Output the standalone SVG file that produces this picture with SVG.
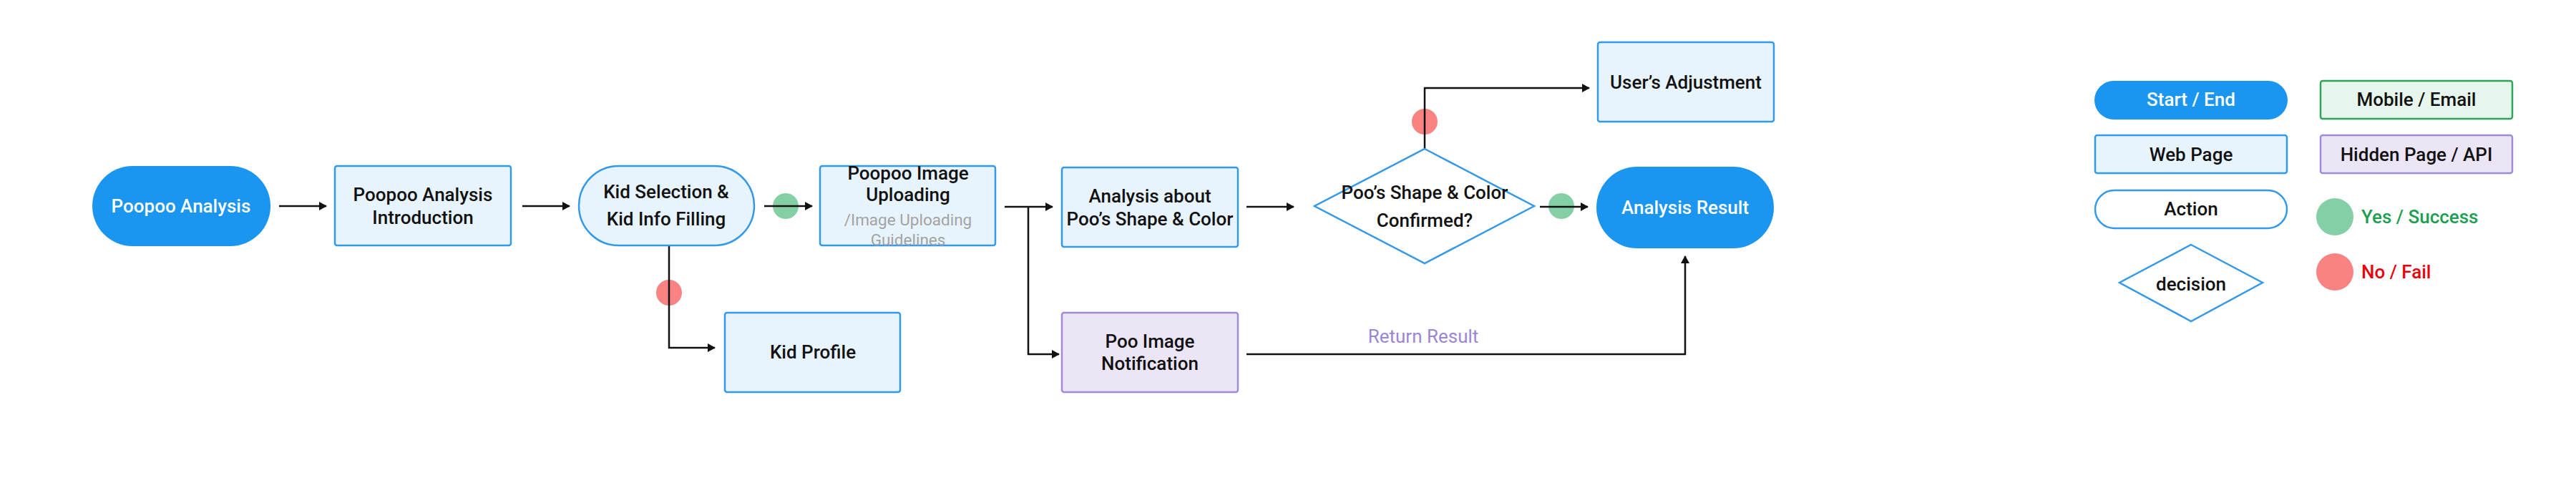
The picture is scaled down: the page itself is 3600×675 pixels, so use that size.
<svg xmlns="http://www.w3.org/2000/svg" width="3600" height="675" viewBox="0 0 3600 675">
<style>
text{font-family:Roboto,"Liberation Sans",sans-serif;font-size:26px;font-weight:500;text-anchor:middle;fill:#111}
.w{fill:#fff}
.start{fill:#1a95f0}
.web{fill:#e8f4fd;stroke:#3399e8;stroke-width:2.5}
.act{fill:#e8f4fd;stroke:#3399e8;stroke-width:2.5}
.act2{fill:#fff;stroke:#3399e8;stroke-width:2.5}
.hid{fill:#ebe5f6;stroke:#a18bd3;stroke-width:2.5}
.mob{fill:#e6f6ec;stroke:#2fa55a;stroke-width:2.5}
.dec{fill:#fff;stroke:#3399e8;stroke-width:2.5}
.g{fill:#84cfa5}
.r{fill:#f98282}
.gray{fill:#a3a3a3;font-size:22.5px;font-weight:400}
.ln{fill:none;stroke:#111;stroke-width:2.5}
</style>
<defs>
<marker id="ah" markerWidth="12" markerHeight="12" refX="10" refY="6" orient="auto" markerUnits="userSpaceOnUse">
<path d="M0,0 L11,6 L0,12 Z" fill="#111"/>
</marker>
</defs>
<rect width="3600" height="675" fill="#fff"/>

<g id="connectors">
<circle class="g" cx="1098" cy="288" r="18"/>
<circle class="r" cx="935" cy="409" r="18"/>
<circle class="g" cx="2182" cy="288" r="18"/>
<circle class="r" cx="1991" cy="170" r="18"/>
<line class="ln" x1="390" y1="288" x2="456" y2="288" marker-end="url(#ah)"/>
<line class="ln" x1="730" y1="288" x2="796" y2="288" marker-end="url(#ah)"/>
<line class="ln" x1="1068" y1="288" x2="1135" y2="288" marker-end="url(#ah)"/>
<path class="ln" d="M935,344 V486 H999" marker-end="url(#ah)"/>
<line class="ln" x1="1404" y1="289" x2="1471" y2="289" marker-end="url(#ah)"/>
<path class="ln" d="M1437,289 V495 H1480" marker-end="url(#ah)"/>
<line class="ln" x1="1742" y1="289" x2="1808" y2="289" marker-end="url(#ah)"/>
<line class="ln" x1="2152" y1="289" x2="2219" y2="289" marker-end="url(#ah)"/>
<path class="ln" d="M1991,208 V123 H2221" marker-end="url(#ah)"/>
<path class="ln" d="M1742,495 H2355 V358" marker-end="url(#ah)"/>
<text x="1989" y="479" style="fill:#9c86d4;font-weight:400">Return Result</text>
</g>

<g id="start">
<rect class="start" x="129" y="232" width="249" height="112" rx="56"/>
<text class="w" x="253" y="297">Poopoo Analysis</text>
</g>
<g id="intro">
<rect class="web" x="468" y="232" width="246" height="111" rx="3"/>
<text x="591" y="281">Poopoo Analysis</text>
<text x="591" y="313">Introduction</text>
</g>
<g id="kid-selection">
<rect class="act" x="809" y="232" width="245" height="111" rx="55.5"/>
<text x="931" y="277">Kid Selection &amp;</text>
<text x="931" y="315">Kid Info Filling</text>
</g>
<g id="upload">
<rect class="web" x="1146" y="232" width="245" height="111" rx="3"/>
<text x="1269" y="251">Poopoo Image</text>
<text x="1269" y="281">Uploading</text>
<text class="gray" x="1269" y="315">/Image Uploading</text>
<text class="gray" x="1269" y="343">Guidelines</text>
</g>
<g id="kid-profile">
<rect class="web" x="1013" y="437" width="245" height="111" rx="3"/>
<text x="1136" y="501">Kid Profile</text>
</g>
<g id="analysis">
<rect class="web" x="1484" y="234" width="246" height="111" rx="3"/>
<text x="1607" y="283">Analysis about</text>
<text x="1607" y="315">Poo’s Shape &amp; Color</text>
</g>
<g id="notification">
<rect class="hid" x="1484" y="437" width="246" height="111" rx="3"/>
<text x="1607" y="486">Poo Image</text>
<text x="1607" y="517">Notification</text>
</g>
<g id="decision">
<path class="dec" d="M1991,208 L2144,288 L1991,368 L1837,288 Z"/>
<text x="1991" y="278">Poo’s Shape &amp; Color</text>
<text x="1991" y="317">Confirmed?</text>
</g>
<g id="adjustment">
<rect class="web" x="2233" y="59" width="246" height="111" rx="3"/>
<text x="2356" y="124">User’s Adjustment</text>
</g>
<g id="result">
<rect class="start" x="2231" y="233" width="248" height="114" rx="57"/>
<text class="w" x="2355" y="299">Analysis Result</text>
</g>

<g id="legend">
<rect class="start" x="2927" y="113" width="270" height="54" rx="27"/>
<text class="w" x="3062" y="148">Start / End</text>
<rect class="mob" x="3243" y="113" width="268" height="53" rx="3"/>
<text x="3377" y="148">Mobile / Email</text>
<rect class="web" x="2928" y="189" width="268" height="53" rx="3"/>
<text x="3062" y="225">Web Page</text>
<rect class="hid" x="3243" y="189" width="268" height="53" rx="3"/>
<text x="3377" y="225">Hidden Page / API</text>
<rect class="act2" x="2928" y="266" width="268" height="53" rx="26.5"/>
<text x="3062" y="301">Action</text>
<path class="dec" d="M3062,342 L3162,395 L3062,449 L2962,395 Z"/>
<text x="3062" y="406">decision</text>
<circle class="g" cx="3263" cy="303" r="26"/>
<text x="3300" y="312" style="text-anchor:start;fill:#1e9e50">Yes / Success</text>
<circle class="r" cx="3263" cy="380" r="26"/>
<text x="3300" y="389" style="text-anchor:start;fill:#e8000b">No / Fail</text>
</g>
</svg>
